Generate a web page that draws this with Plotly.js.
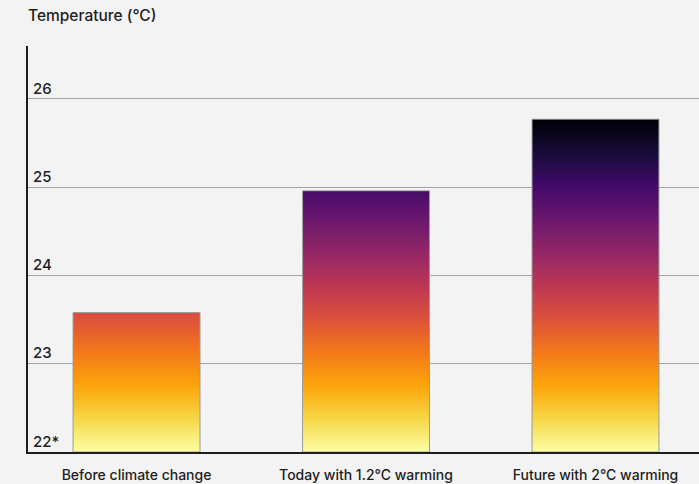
<!DOCTYPE html>
<html>
<head>
<meta charset="utf-8">
<script src="https://cdn.plot.ly/plotly-3.0.1.min.js"></script>
<style>
  html, body { margin: 0; padding: 0; background: #f3f3f3; }
  #chart { width: 699px; height: 484px; }
</style>
</head>
<body>
<div id="chart"></div>
<script>
// Average temperature for each scenario (°C)
const scenarios = ["Before climate change", "Today with 1.2°C warming", "Future with 2°C warming"];
const temperatures = [23.58, 24.96, 25.77];

// Y axis ticks; the axis is cut at 22, hence the asterisk
const tickValues = [22, 23, 24, 25, 26];
const tickLabels = ["22*", "23", "24", "25", "26"];

const axisBase = 22;

// Inferno-style heat scale, pale yellow (cool) to black (hot)
const heatScale = [
  [0.0, "#fcffa4"],
  [0.1, "#f6d746"],
  [0.2, "#fca50a"],
  [0.3, "#f37819"],
  [0.4, "#dd513a"],
  [0.5, "#bc3754"],
  [0.6, "#932667"],
  [0.7, "#6a176e"],
  [0.8, "#420a68"],
  [0.9, "#160b39"],
  [1.0, "#000004"]
];

// Each bar is split into thin stacked slices so its colour follows the
// temperature scale from the axis base up to the bar's value.
const sliceStep = 0.02;
const sliceX = [], sliceBase = [], sliceLen = [], sliceColor = [];
scenarios.forEach((name, i) => {
  const top = temperatures[i];
  for (let b = axisBase; b < top - 1e-9; b += sliceStep) {
    const t = Math.min(b + sliceStep, top);
    sliceX.push(name);
    sliceBase.push(b);
    sliceLen.push(t - b);
    sliceColor.push((b + t) / 2);
  }
});

const barWidth = 0.553;

const gradientBars = {
  type: "bar",
  x: sliceX,
  base: sliceBase,
  y: sliceLen,
  width: barWidth,
  marker: {
    color: sliceColor,
    colorscale: heatScale,
    cmin: axisBase,
    cmax: Math.max(...temperatures),
    line: { width: 0 }
  },
  hoverinfo: "skip",
  showlegend: false
};

// Thin outline around each full bar
const outlineBars = {
  type: "bar",
  x: scenarios,
  base: scenarios.map(() => axisBase),
  y: temperatures.map(v => v - axisBase),
  width: barWidth,
  marker: { color: "rgba(0,0,0,0)", line: { color: "#9a9a9a", width: 1 } },
  hovertemplate: "%{x}: %{customdata}°C<extra></extra>",
  customdata: temperatures,
  showlegend: false
};

const font = "Inter, 'Noto Sans', 'DejaVu Sans', sans-serif";

const layout = {
  width: 699,
  height: 484,
  margin: { l: 28, r: 0, t: 46, b: 32 },
  paper_bgcolor: "#f3f3f3",
  plot_bgcolor: "#f3f3f3",
  barmode: "overlay",
  // zero gaps let the slice edges snap to whole pixels (no seams)
  bargap: 0,
  bargroupgap: 0,
  font: { family: font, color: "#1e1e1e", size: 14, weight: 500 },
  title: {
    text: "Temperature (°C)",
    font: { family: font, size: 15.5, color: "#1e1e1e", weight: 500 },
    xref: "paper", x: 0, xanchor: "left",
    yref: "container", y: 0.968, yanchor: "middle"
  },
  xaxis: {
    type: "category",
    range: [-0.473, 2.451],
    showline: true,
    linecolor: "#1e1e1e",
    linewidth: 2,
    ticks: "",
    showgrid: false,
    ticklabelstandoff: 9,
    tickfont: { family: font, size: 14, color: "#1e1e1e", weight: 500 },
    fixedrange: true
  },
  yaxis: {
    range: [22, 26.6],
    tickvals: tickValues,
    ticktext: tickLabels,
    ticklabelposition: "inside top",
    ticklabelstandoff: 4,
    showline: true,
    linecolor: "#1e1e1e",
    linewidth: 2,
    showgrid: true,
    gridcolor: "#a3a3a3",
    gridwidth: 1,
    zeroline: false,
    ticks: "",
    tickfont: { family: font, size: 15, color: "#1e1e1e", weight: 500 },
    fixedrange: true
  }
};

Plotly.newPlot("chart", [gradientBars, outlineBars], layout, { displayModeBar: false, staticPlot: true });
</script>
</body>
</html>
